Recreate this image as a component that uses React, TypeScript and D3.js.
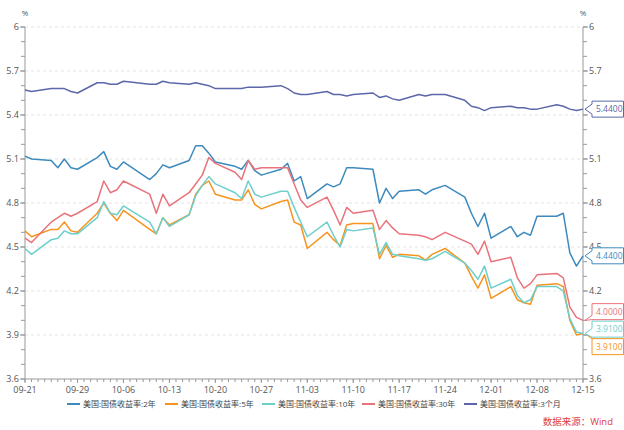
import * as d3 from 'd3';

// Trading days, 2023
const dates = [
  "09-21", "09-22", "09-25", "09-26", "09-27", "09-28", "09-29",
  "10-02", "10-03", "10-04", "10-05", "10-06", "10-10", "10-11", "10-12", "10-13",
  "10-16", "10-17", "10-18", "10-19", "10-20", "10-23", "10-24", "10-25", "10-26", "10-27",
  "10-30", "10-31", "11-01", "11-02", "11-03", "11-06", "11-07", "11-08", "11-09", "11-10",
  "11-13", "11-14", "11-15", "11-16", "11-17", "11-20", "11-21", "11-22", "11-24",
  "11-27", "11-28", "11-29", "11-30", "12-01", "12-04", "12-05", "12-06", "12-07", "12-08",
  "12-11", "12-12", "12-13", "12-14", "12-15",
];

const y2 = [
  5.12, 5.10, 5.09, 5.04, 5.10, 5.04, 5.03,
  5.11, 5.15, 5.05, 5.03, 5.08, 4.96, 5.00, 5.06, 5.04,
  5.09, 5.19, 5.19, 5.14, 5.08, 5.05, 5.03, 5.09, 5.02, 4.99,
  5.03, 5.07, 4.95, 4.98, 4.83, 4.93, 4.91, 4.93, 5.04, 5.04,
  5.03, 4.80, 4.90, 4.83, 4.88, 4.89, 4.86, 4.89, 4.92,
  4.84, 4.73, 4.64, 4.73, 4.56, 4.64, 4.57, 4.60, 4.58, 4.71,
  4.71, 4.73, 4.46, 4.37, 4.44,
];

const y5 = [
  4.61, 4.57, 4.62, 4.62, 4.67, 4.61, 4.60,
  4.73, 4.80, 4.73, 4.68, 4.75, 4.62, 4.59, 4.70, 4.65,
  4.72, 4.86, 4.92, 4.95, 4.86, 4.82, 4.82, 4.89, 4.79, 4.76,
  4.81, 4.82, 4.67, 4.65, 4.49, 4.60, 4.55, 4.51, 4.65, 4.66,
  4.66, 4.42, 4.51, 4.43, 4.45, 4.44, 4.41, 4.45, 4.49,
  4.39, 4.30, 4.22, 4.31, 4.15, 4.23, 4.14, 4.12, 4.11, 4.24,
  4.25, 4.23, 4.00, 3.90, 3.91,
];

const y10 = [
  4.49, 4.45, 4.55, 4.56, 4.61, 4.59, 4.59,
  4.70, 4.81, 4.73, 4.72, 4.78, 4.67, 4.59, 4.70, 4.64,
  4.72, 4.85, 4.92, 4.98, 4.93, 4.87, 4.83, 4.95, 4.86, 4.84,
  4.88, 4.88, 4.77, 4.67, 4.57, 4.67, 4.58, 4.50, 4.62, 4.61,
  4.63, 4.45, 4.53, 4.45, 4.44, 4.42, 4.41, 4.42, 4.47,
  4.39, 4.34, 4.28, 4.37, 4.22, 4.28, 4.17, 4.12, 4.14, 4.23,
  4.23, 4.20, 4.01, 3.92, 3.91,
];

const y30 = [
  4.56, 4.53, 4.67, 4.70, 4.73, 4.71, 4.73,
  4.81, 4.95, 4.87, 4.89, 4.95, 4.86, 4.73, 4.86, 4.78,
  4.87, 4.93, 4.99, 5.11, 5.07, 5.01, 4.96, 5.09, 5.03, 5.04,
  5.04, 5.04, 4.93, 4.82, 4.77, 4.84, 4.75, 4.65, 4.77, 4.73,
  4.75, 4.62, 4.68, 4.63, 4.59, 4.58, 4.57, 4.55, 4.60,
  4.54, 4.52, 4.45, 4.54, 4.40, 4.43, 4.29, 4.22, 4.25, 4.31,
  4.32, 4.29, 4.09, 4.02, 4.00,
];

const y3m = [
  5.57, 5.56, 5.58, 5.58, 5.58, 5.56, 5.55,
  5.62, 5.62, 5.61, 5.61, 5.63, 5.61, 5.61, 5.63, 5.62,
  5.61, 5.62, 5.61, 5.60, 5.58, 5.58, 5.58, 5.59, 5.59, 5.59,
  5.60, 5.58, 5.55, 5.54, 5.54, 5.56, 5.54, 5.54, 5.53, 5.54,
  5.55, 5.52, 5.53, 5.51, 5.50, 5.54, 5.53, 5.54, 5.54,
  5.50, 5.46, 5.45, 5.43, 5.45, 5.46, 5.45, 5.45, 5.44, 5.44,
  5.47, 5.46, 5.44, 5.43, 5.44,
];

const seriesNames = [
  "美国:国债收益率:2年",
  "美国:国债收益率:5年",
  "美国:国债收益率:10年",
  "美国:国债收益率:30年",
  "美国:国债收益率:3个月",
];
const seriesValues = [y2, y5, y10, y30, y3m];
const seriesColors = ["#3d8abd", "#f7941d", "#6ccfcc", "#e9737b", "#5b67a8"];

const yTicks = [3.6, 3.9, 4.2, 4.5, 4.8, 5.1, 5.4, 5.7, 6];
const xTickLabels = ["09-21", "09-29", "10-06", "10-13", "10-20", "10-27", "11-03", "11-10", "11-17", "11-24", "12-01", "12-08", "12-15"];

const WIDTH = 624;
const HEIGHT = 430;
const MARGIN = { top: 27, right: 41, bottom: 51, left: 25 };
const FONT = '"Open Sans", "Noto Sans CJK SC", sans-serif';
const legendX = [67, 165, 262, 362, 464];

const parse = (s: string) => d3.timeParse("%Y-%m-%d")("2023-" + s) as Date;

const BOX_H = 16;
const STEP = 17.5;

// stack the end-value boxes so they don't overlap (clusters centred on their values)
function placeLabels(items: { y: number; rank: number; idx: number }[]) {
  const sorted = [...items].sort((a, b) => a.y - b.y || a.rank - b.rank);
  let clusters = sorted.map((it) => ({ items: [it], start: it.y }));
  let merged = true;
  while (merged) {
    merged = false;
    for (let i = 1; i < clusters.length; i++) {
      const prev = clusters[i - 1];
      const cur = clusters[i];
      const prevEnd = prev.start + (prev.items.length - 1) * STEP;
      if (cur.start - prevEnd < STEP) {
        const all = [...prev.items, ...cur.items];
        const mean = d3.mean(all, (d) => d.y) as number;
        clusters.splice(i - 1, 2, { items: all, start: mean - ((all.length - 1) * STEP) / 2 });
        merged = true;
        break;
      }
    }
  }
  const out: Record<number, number> = {};
  clusters.forEach((c) => c.items.forEach((it, j) => (out[it.idx] = c.start + j * STEP)));
  return out;
}

export default function App() {
  const x0 = MARGIN.left;
  const x1 = WIDTH - MARGIN.right;
  const yTop = MARGIN.top;
  const yBot = HEIGHT - MARGIN.bottom;

  const parsed = dates.map(parse);
  const xScale = d3.scaleTime().domain([parsed[0], parsed[parsed.length - 1]]).range([x0, x1]);
  const yScale = d3.scaleLinear().domain([3.6, 6]).range([yBot, yTop]);

  const line = d3
    .line<number>()
    .x((_, i) => xScale(parsed[i]))
    .y((d) => yScale(d));

  const minorY = yScale.ticks(24);
  const dayTicks = d3.timeDay.range(parsed[0], d3.timeDay.offset(parsed[parsed.length - 1], 1));

  const ends = seriesValues.map((vals, idx) => ({
    idx,
    value: vals[vals.length - 1],
    y: yScale(vals[vals.length - 1]),
    rank: -idx,
  }));
  const labelCenters = placeLabels(ends);

  // right tick labels hidden behind an end box are not drawn
  const hiddenRight = (t: number) =>
    ends.some((e) => Math.abs(labelCenters[e.idx] - yScale(t)) < BOX_H / 2 - 1);

  return (
    <div style={{ position: 'absolute', left: 0, top: 0 }}>
      <svg width={WIDTH} height={HEIGHT} style={{ display: 'block', fontFamily: FONT }}>
        <rect width={WIDTH} height={HEIGHT} fill="#fff" />

        {/* grid */}
        {yTicks.filter((t) => t > 3.6).map((t) => (
          <line key={t} x1={x0} x2={x1} y1={yScale(t)} y2={yScale(t)} stroke="#dcdcdc" strokeDasharray="3,3" strokeWidth={0.8} />
        ))}

        {/* y axes */}
        <line x1={x0} x2={x0} y1={yTop} y2={yBot} stroke="#999" />
        <line x1={x1} x2={x1} y1={yTop} y2={yBot} stroke="#999" />
        {minorY.map((t) => (
          <g key={t}>
            <line x1={x0 - 4} x2={x0} y1={yScale(t)} y2={yScale(t)} stroke="#999" />
            <line x1={x1} x2={x1 + 4} y1={yScale(t)} y2={yScale(t)} stroke="#999" />
          </g>
        ))}
        {yTicks.map((t) => (
          <g key={t} fontSize={9} fill="#555">
            <line x1={x0 - 5} x2={x0} y1={yScale(t)} y2={yScale(t)} stroke="#999" />
            <line x1={x1} x2={x1 + 5} y1={yScale(t)} y2={yScale(t)} stroke="#999" />
            <text x={x0 - 6} y={yScale(t) + 3} textAnchor="end">{`${t}`}</text>
            {!hiddenRight(t) && (
              <text x={x1 + 6} y={yScale(t) + 3} textAnchor="start">{`${t}`}</text>
            )}
          </g>
        ))}
        <text x={x0} y={16} fontSize={8} fill="#555" textAnchor="middle">%</text>
        <text x={x1} y={16} fontSize={8} fill="#555" textAnchor="middle">%</text>

        {/* x axis */}
        <line x1={x0} x2={x1} y1={yBot} y2={yBot} stroke="#999" />
        {dayTicks.map((d) => (
          <line key={+d} x1={xScale(d)} x2={xScale(d)} y1={yBot} y2={yBot + 3} stroke="#999" />
        ))}
        {xTickLabels.map((s) => {
          const d = parse(s);
          return (
            <g key={s}>
              <line x1={xScale(d)} x2={xScale(d)} y1={yBot} y2={yBot + 4} stroke="#999" />
              <text x={xScale(d)} y={yBot + 14} fontSize={9} fill="#555" textAnchor="middle">{s}</text>
            </g>
          );
        })}

        {/* series */}
        {seriesValues.map((vals, i) => (
          <path key={i} d={line(vals) ?? ''} fill="none" stroke={seriesColors[i]} strokeWidth={1.5} strokeLinejoin="round" />
        ))}

        {/* end labels */}
        {ends.map((e) => {
          const c = labelCenters[e.idx];
          const top = c - BOX_H / 2;
          const bot = c + BOX_H / 2;
          const t = e.y;
          const a = Math.max(top, Math.min(bot, t - 5));
          const b = Math.max(top, Math.min(bot, t + 5));
          const bx = x1 + 9;
          const tipX = x1 + 2;
          const right = WIDTH - 0.5;
          return (
            <g key={e.idx}>
              <path
                d={`M${bx},${top}L${right},${top}L${right},${bot}L${bx},${bot}L${bx},${b}L${tipX},${t}L${bx},${a}Z`}
                fill="#fff"
                stroke={seriesColors[e.idx]}
                strokeWidth={1}
              />
              <text x={bx + 4} y={c + 3} fontSize={8.5} fill={seriesColors[e.idx]}>
                {e.value.toFixed(4)}
              </text>
            </g>
          );
        })}

        {/* legend */}
        {seriesNames.map((name, i) => (
          <g key={name} transform={`translate(${legendX[i]},404)`}>
            <line x1={0} x2={13} y1={0} y2={0} stroke={seriesColors[i]} strokeWidth={2} />
            <text x={16} y={3} fontSize={8} fill="#444">{name}</text>
          </g>
        ))}

        <text x={613} y={425} fontSize={9.5} fill="#e03c3c" textAnchor="end">数据来源：Wind</text>
      </svg>
    </div>
  );
}
